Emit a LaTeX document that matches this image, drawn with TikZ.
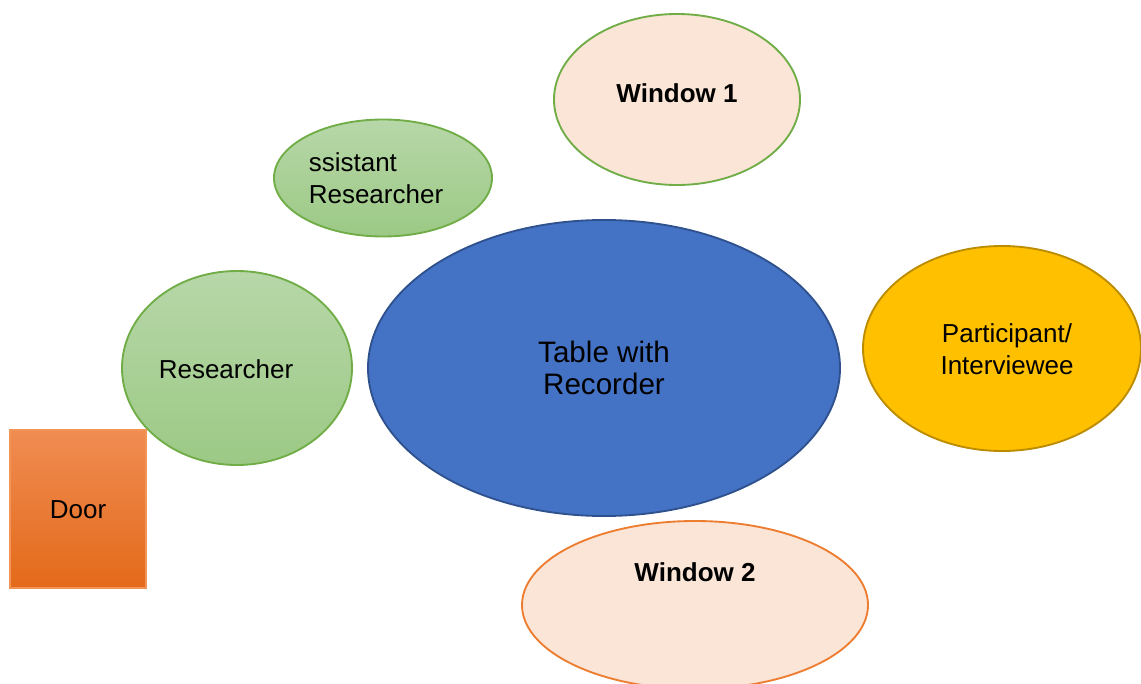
\documentclass[tikz,border=0pt]{standalone}
\usepackage{fontspec}
\setmainfont{Liberation Sans}
\usetikzlibrary{shapes.geometric}
\definecolor{peach}{HTML}{FBE5D6}
\definecolor{leaf}{HTML}{70AD47}
\definecolor{leaftop}{HTML}{B7D7A8}
\definecolor{leafbot}{HTML}{9CC985}
\definecolor{tangerine}{HTML}{ED7D31}
\definecolor{doortop}{HTML}{F08C52}
\definecolor{doorbot}{HTML}{E36A1A}
\definecolor{dooredge}{HTML}{F29456}
\definecolor{tableblue}{HTML}{4472C4}
\definecolor{tableedge}{HTML}{2F528F}
\definecolor{gold}{HTML}{FFC000}
\definecolor{goldedge}{HTML}{BC8C00}
\tikzset{
  oval/.style={ellipse, inner sep=0pt, line width=1.4pt},
  green oval/.style={oval, draw=leaf, top color=leaftop, bottom color=leafbot},
  window/.style={oval, fill=peach},
  txt/.style={font=\fontsize{19.5}{24}\selectfont, align=center, inner sep=0pt},
}
\begin{document}
\begin{tikzpicture}[x=0.75pt, y=-0.75pt]
  \useasboundingbox (0,0) rectangle (1141,684);
  % furniture and room features
  \node[window, draw=leaf, minimum width=246*0.75pt, minimum height=171*0.75pt] (win1) at (677,99.5) {};
  \node[green oval, minimum width=218*0.75pt, minimum height=117*0.75pt] (assist) at (383,178) {};
  \node[oval, draw=tableedge, fill=tableblue, minimum width=472*0.75pt, minimum height=296*0.75pt] (table) at (604,368) {};
  \node[oval, draw=goldedge, fill=gold, minimum width=278*0.75pt, minimum height=205*0.75pt] (part) at (1002,348.5) {};
  \node[green oval, minimum width=230*0.75pt, minimum height=194*0.75pt] (res) at (237,368) {};
  \node[rectangle, draw=dooredge, line width=1.2pt, top color=doortop, bottom color=doorbot,
        minimum width=136*0.75pt, minimum height=158*0.75pt] (door) at (78,509) {};
  \node[window, draw=tangerine, minimum width=346*0.75pt, minimum height=168*0.75pt] (win2) at (695,605) {};
  % labels
  \node[txt, font=\fontsize{19.5}{24}\selectfont\bfseries] (win1t) at (677,93) {Window 1};
  \node[txt, align=left] (assistt) at (376,178) {ssistant\\ Researcher};
  \node[txt, font=\fontsize{22.2}{24}\selectfont] (tablet) at (604,368) {Table with\\Recorder};
  \node[txt] (partt) at (1007,349) {Participant/\\Interviewee};
  \node[txt] (rest) at (226,369) {Researcher};
  \node[txt] (doort) at (78,510) {Door};
  \node[txt, font=\fontsize{19.5}{24}\selectfont\bfseries] (win2t) at (695,572) {Window 2};
\end{tikzpicture}
\end{document}
